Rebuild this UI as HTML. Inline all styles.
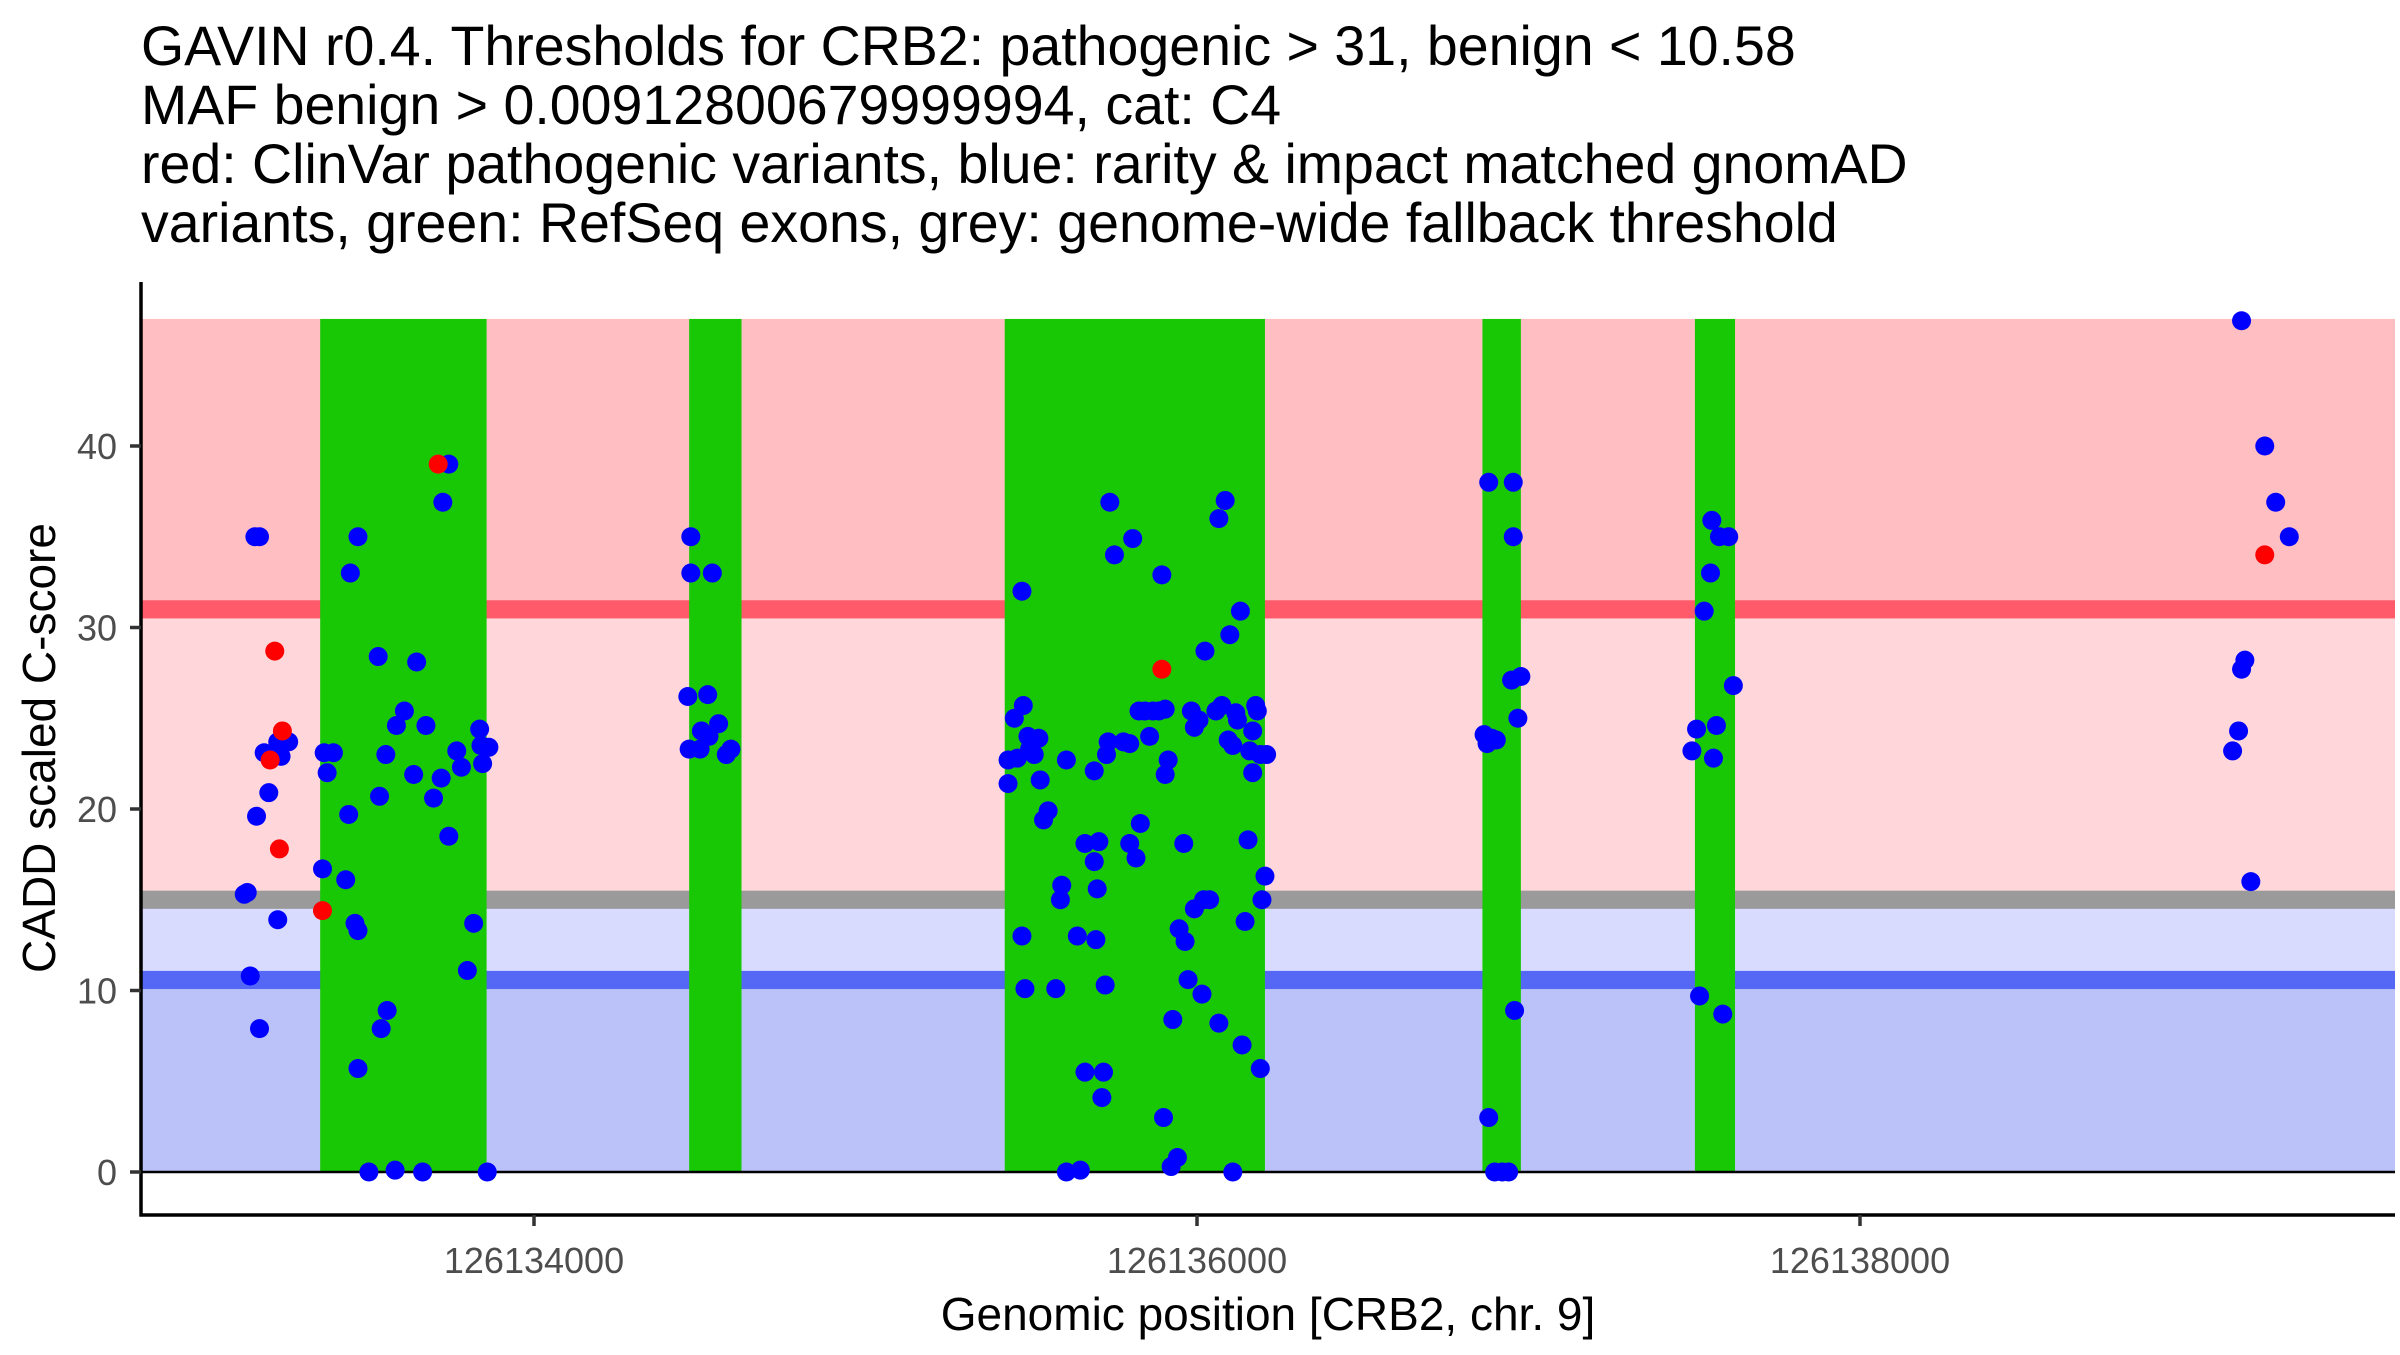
<!DOCTYPE html>
<html><head><meta charset="utf-8"><style>
html,body{margin:0;padding:0;background:#fff;}
svg text{font-family:"Liberation Sans",Arial,sans-serif;}
</style></head><body>
<svg id="chart" width="2400" height="1350" viewBox="0 0 2400 1350" xmlns="http://www.w3.org/2000/svg">
<g font-size="55.5" fill="#000">
<text x="141" y="65">GAVIN r0.4. Thresholds for CRB2: pathogenic &gt; 31, benign &lt; 10.58</text>
<text x="141" y="124">MAF benign &gt; 0.00912800679999994, cat: C4</text>
<text x="141" y="183">red: ClinVar pathogenic variants, blue: rarity &amp; impact matched gnomAD</text>
<text x="141" y="242">variants, green: RefSeq exons, grey: genome-wide fallback threshold</text>
</g>
<g id="plot"></g>
</svg>
<script>
const xTicks=[126134000,126136000,126138000];
const yTicks=[0,10,20,30,40];
const bandTop=47;
const pathoThr=31, benignThr=10.58, fallbackThr=15;
const exonStart=[126133355,126134468,126135420,126136861,126137502];
const exonEnd=[126133857,126134626,126136205,126136977,126137623];
const blueX=[126133135,126133126,126133172,126133158,126133163,126133186,126133200,126133144,126133172,126133227,126133237,126133227,126133260,
126133362,126133367,126133376,126133395,126133432,126133441,126133446,126133469,126133460,126133469,126133469,126133502,126133530,126133534,126133539,126133557,126133553,126133581,126133585,126133609,126133637,126133646,126133664,126133674,126133697,126133720,126133725,126133743,126133743,126133767,126133781,126133818,126133799,126133836,126133840,126133845,126133864,126133859,
126134473,126134473,126134538,126134464,126134524,126134468,126134501,126134505,126134528,126134557,126134580,126134594,
126135430,126135430,126135449,126135458,126135472,126135472,126135476,126135481,126135490,126135495,126135509,126135523,126135527,126135537,126135551,126135574,126135588,126135592,126135606,126135606,126135639,126135648,126135662,126135662,126135690,126135690,126135699,126135695,126135704,126135713,126135718,126135723,126135727,126135732,126135737,126135751,126135778,126135797,126135797,126135806,126135816,126135825,126135829,126135843,126135857,126135867,126135885,126135894,126135899,126135904,126135904,126135913,126135922,126135927,126135941,126135946,126135960,126135964,126135973,126135983,126135992,126135992,126136006,126136015,126136024,126136020,126136038,126136057,126136066,126136075,126136085,126136066,126136094,126136099,126136108,126136108,126136117,126136122,126136131,126136136,126136145,126136154,126136159,126136168,126136168,126136177,126136182,126136191,126136196,126136205,126136191,126136210,
126136880,126136954,126136954,126136875,126136889,126136866,126136903,126136949,126136977,126136968,126136958,126136880,126136898,126136921,126136940,
126137553,126137549,126137530,126137576,126137604,126137507,126137493,126137567,126137618,126137558,126137516,126137586,
126139151,126139221,126139254,126139295,126139161,126139151,126139142,126139124,126139179];
const blueY=[15.4,15.3,35,35,19.6,23.1,20.9,10.8,7.9,13.9,22.9,23.7,23.7,
16.7,23.1,22,23.1,16.1,19.7,33,35,13.7,13.3,5.7,0,28.4,20.7,7.9,8.9,23,0.1,24.6,25.4,21.9,28.1,0,24.6,20.6,21.7,36.9,39,18.5,23.2,22.3,13.7,11.1,24.4,23.5,22.5,23.4,0,
35,33,33,26.2,26.3,23.3,23.3,24.3,24,24.7,23,23.3,
22.7,21.4,25,22.8,32,13,25.7,10.1,24,23.3,23,23.9,21.6,19.4,19.9,10.1,15,15.8,22.7,0,13,0.1,18.1,5.5,22.1,17.1,15.6,12.8,18.2,4.1,5.5,10.3,23,23.7,36.9,34,23.7,23.6,18.1,34.9,17.3,25.4,19.2,25.4,24,25.4,25.4,32.9,3,21.9,25.5,22.7,0.3,8.4,0.8,13.4,18.1,12.7,10.6,25.4,14.5,24.5,24.9,9.8,28.7,15,15,25.4,8.2,25.7,37,36,23.8,29.6,23.5,0,25.3,24.9,30.9,7,13.8,18.3,23.2,22,24.3,25.7,25.4,23,15,16.3,5.7,23,
38,38,35,23.6,23.9,24.1,23.8,27.1,27.3,25,8.9,3,0,0,0,
35.9,33,30.9,35,35,24.4,23.2,24.6,26.8,22.8,9.7,8.7,
46.9,40,36.9,35,28.2,27.7,24.3,23.2,16];
const redX=[126133218,126133241,126133204,126133232,126133362,126133711,126135894,126139221];
const redY=[28.7,24.3,22.7,17.8,14.4,39,27.7,34];

const NS="http://www.w3.org/2000/svg";
const L=141,R=2395,AXB=1215;
function sx(v){return 534+(v-126134000)*0.3315;}
function sy(v){return 1172-v*18.15;}
const g=document.getElementById('plot');
function mk(tag,attrs,parent){const e=document.createElementNS(NS,tag);for(const k in attrs)e.setAttribute(k,attrs[k]);(parent||g).appendChild(e);return e;}
function band(a,b,fill,name){const e=mk('rect',{x:L,y:sy(b),width:R-L,height:sy(a)-sy(b),fill:fill});

}
band(pathoThr,bandTop,'#FFBEC1','pathogenic-zone');
band(fallbackThr,pathoThr,'#FFD7DB','intermediate-zone');
band(benignThr,fallbackThr,'#D8DBFE','fallback-benign-zone');
band(0,benignThr,'#BBC2FA','benign-zone');
band(pathoThr-0.5,pathoThr+0.5,'#FF5A69','pathogenic-threshold-line');
band(fallbackThr-0.5,fallbackThr+0.5,'#9A9A9A','fallback-threshold-line');
band(benignThr-0.5,benignThr+0.5,'#5468F5','benign-threshold-line');
for(let i=0;i<exonStart.length;i++){
 const e=mk('rect',{x:sx(exonStart[i]),y:sy(bandTop),width:sx(exonEnd[i])-sx(exonStart[i]),height:sy(0)-sy(bandTop),fill:'#19C805'});
 
 
}
const zl=mk('line',{x1:L,x2:R,y1:sy(0),y2:sy(0),stroke:'#000','stroke-width':2.5});


for(let i=0;i<blueX.length;i++){
 const c=mk('circle',{cx:sx(blueX[i]),cy:sy(blueY[i]),r:9.5,fill:'#0000FF'});
 
 
}
for(let i=0;i<redX.length;i++){
 const c=mk('circle',{cx:sx(redX[i]),cy:sy(redY[i]),r:9.5,fill:'#FF0000'});
 
 
}
const ya=mk('line',{x1:L,x2:L,y1:282,y2:AXB+1.5,stroke:'#000','stroke-width':3.5});


const xa=mk('line',{x1:L-1.5,x2:R,y1:AXB,y2:AXB,stroke:'#000','stroke-width':3.5});


yTicks.forEach(v=>{
 const t=mk('line',{x1:L-11,x2:L,y1:sy(v),y2:sy(v),stroke:'#333','stroke-width':3.5});
 
 
 const tx=mk('text',{x:117,y:sy(v)+13,'text-anchor':'end','font-size':36,fill:'#4D4D4D'});
 tx.textContent=v;
 
 
});
xTicks.forEach(v=>{
 const t=mk('line',{x1:sx(v),x2:sx(v),y1:AXB,y2:AXB+11,stroke:'#333','stroke-width':3.5});
 
 
 const tx=mk('text',{x:sx(v),y:1273,'text-anchor':'middle','font-size':36,fill:'#4D4D4D'});
 tx.textContent=v;
 
 
});
const xt=mk('text',{x:1268,y:1330,'text-anchor':'middle','font-size':46,fill:'#000'});
xt.textContent='Genomic position [CRB2, chr. 9]';


const yt=mk('text',{x:0,y:0,'text-anchor':'middle','font-size':46,fill:'#000',transform:'translate(55,748) rotate(-90)'});
yt.textContent='CADD scaled C-score';


</script>
</body></html>
